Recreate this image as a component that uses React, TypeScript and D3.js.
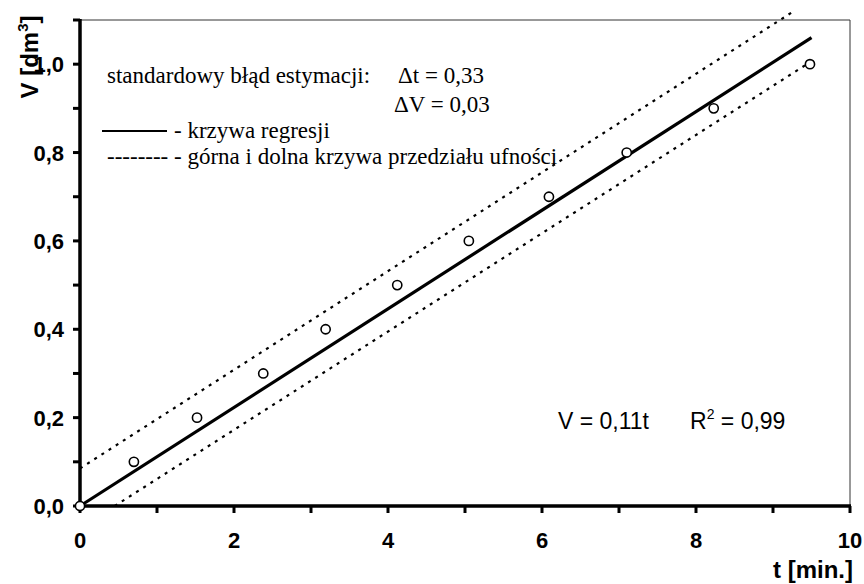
import React, { useEffect, useRef } from "react";
import * as d3 from "d3";

// measured points: time [min] and volume [dm3]
const timeValues = [0, 0.7, 1.52, 2.38, 3.19, 4.12, 5.05, 6.09, 7.1, 8.23, 9.48];
const volumeValues = [0, 0.1, 0.2, 0.3, 0.4, 0.5, 0.6, 0.7, 0.8, 0.9, 1.0];

// line end points [t, V]
const regressionLine = [[0, 0], [9.5, 1.06]];
const upperBand = [[0, 0.085], [9.27, 1.12]];
const lowerBand = [[0.45, 0], [9.44, 1.0]];

const xTicks = [0, 2, 4, 6, 8, 10];
const yTicks = [0, 0.2, 0.4, 0.6, 0.8, 1.0];

export default function App() {
  const ref = useRef(null);

  useEffect(() => {
    const svg = d3.select(ref.current);
    svg.selectAll("*").remove();

    const width = 864;
    const height = 584;
    const margin = { top: 20, right: 14, bottom: 78, left: 80 };

    const x = d3.scaleLinear().domain([0, 10]).range([margin.left, width - margin.right]);
    const y = d3.scaleLinear().domain([0, 1.1]).range([height - margin.bottom, margin.top]);

    const fmt = (d) => d3.format(".1f")(d).replace(".", ",");
    const sans = "Arial, 'Liberation Sans', sans-serif";

    // frame (top + right, thin)
    svg
      .append("path")
      .attr("d", `M${x(0)},${y(1.1)}H${x(10)}V${y(0)}`)
      .attr("fill", "none")
      .attr("stroke", "#333")
      .attr("stroke-width", 1);

    // ticks every 1 min and 0.1 dm3
    const minorX = d3.range(0, 10.01, 1);
    const minorY = d3.range(0, 1.101, 0.1);

    svg
      .append("g")
      .selectAll("line")
      .data(minorX)
      .join("line")
      .attr("x1", (d) => x(d))
      .attr("x2", (d) => x(d))
      .attr("y1", y(0))
      .attr("y2", y(0) + 7)
      .attr("stroke", "#000")
      .attr("stroke-width", 3);

    svg
      .append("g")
      .selectAll("line")
      .data(minorY)
      .join("line")
      .attr("x1", x(0) - 7)
      .attr("x2", x(0))
      .attr("y1", (d) => y(d))
      .attr("y2", (d) => y(d))
      .attr("stroke", "#000")
      .attr("stroke-width", 3);

    // axis lines
    svg
      .append("path")
      .attr("d", `M${x(0)},${y(1.1) - 1}V${y(0)}H${x(10) + 1}`)
      .attr("fill", "none")
      .attr("stroke", "#000")
      .attr("stroke-width", 3.5);

    // tick labels
    svg
      .append("g")
      .selectAll("text")
      .data(xTicks)
      .join("text")
      .attr("x", (d) => x(d))
      .attr("y", y(0) + 42)
      .attr("text-anchor", "middle")
      .style("font-family", sans)
      .style("font-weight", "bold")
      .style("font-size", "22px")
      .text((d) => d);

    svg
      .append("g")
      .selectAll("text")
      .data(yTicks)
      .join("text")
      .attr("x", x(0) - 16)
      .attr("y", (d) => y(d) + 8)
      .attr("text-anchor", "end")
      .style("font-family", sans)
      .style("font-weight", "bold")
      .style("font-size", "22px")
      .text((d) => fmt(d));

    // axis titles
    svg
      .append("text")
      .attr("x", 853)
      .attr("y", 578)
      .attr("text-anchor", "end")
      .style("font-family", sans)
      .style("font-weight", "bold")
      .style("font-size", "24px")
      .text("t [min.]");

    const yTitle = svg
      .append("text")
      .attr("transform", "translate(38,57) rotate(-90)")
      .attr("text-anchor", "middle")
      .style("font-family", sans)
      .style("font-weight", "bold")
      .style("font-size", "24px");
    yTitle.append("tspan").text("V [dm");
    yTitle.append("tspan").attr("dy", -10).style("font-size", "15px").text("3");
    yTitle.append("tspan").attr("dy", 10).text("]");

    // lines
    const line = d3
      .line()
      .x((d) => x(d[0]))
      .y((d) => y(d[1]));

    svg
      .append("path")
      .attr("d", line(regressionLine))
      .attr("fill", "none")
      .attr("stroke", "#000")
      .attr("stroke-width", 3.2);

    [upperBand, lowerBand].forEach((band) => {
      svg
        .append("path")
        .attr("d", line(band))
        .attr("fill", "none")
        .attr("stroke", "#000")
        .attr("stroke-width", 2.2)
        .attr("stroke-dasharray", "3,5.5");
    });

    // points
    svg
      .append("g")
      .selectAll("circle")
      .data(timeValues.map((t, i) => [t, volumeValues[i]]))
      .join("circle")
      .attr("cx", (d) => x(d[0]))
      .attr("cy", (d) => y(d[1]))
      .attr("r", 4.6)
      .attr("fill", "#fff")
      .attr("stroke", "#000")
      .attr("stroke-width", 1.6);

    // legend (serif)
    const serif = "'Times New Roman', 'Liberation Serif', serif";
    const addSerif = (tx, ty, str) =>
      svg
        .append("text")
        .attr("x", tx)
        .attr("y", ty)
        .style("font-family", serif)
        .style("font-size", "23px")
        .text(str);

    addSerif(107, 83, "standardowy błąd estymacji:");
    addSerif(398, 83, "\u0394t = 0,33");
    addSerif(394, 112, "\u0394V = 0,03");

    svg
      .append("line")
      .attr("x1", 102)
      .attr("x2", 167)
      .attr("y1", 131)
      .attr("y2", 131)
      .attr("stroke", "#000")
      .attr("stroke-width", 2);
    addSerif(174, 138, "- krzywa regresji");
    addSerif(107, 164, "-------- - górna i dolna krzywa przedziału ufności");

    // equation
    svg
      .append("text")
      .attr("x", 558)
      .attr("y", 429)
      .style("font-family", sans)
      .style("font-size", "23px")
      .text("V = 0,11t");

    const r2 = svg
      .append("text")
      .attr("x", 690)
      .attr("y", 429)
      .style("font-family", sans)
      .style("font-size", "23px");
    r2.append("tspan").text("R");
    r2.append("tspan").attr("dy", -10).style("font-size", "14px").text("2");
    r2.append("tspan").attr("dy", 10).text(" = 0,99");
  }, []);

  return (
    <svg
      ref={ref}
      width={864}
      height={584}
      style={{ position: "absolute", left: 0, top: 0, background: "#fff" }}
    />
  );
}
